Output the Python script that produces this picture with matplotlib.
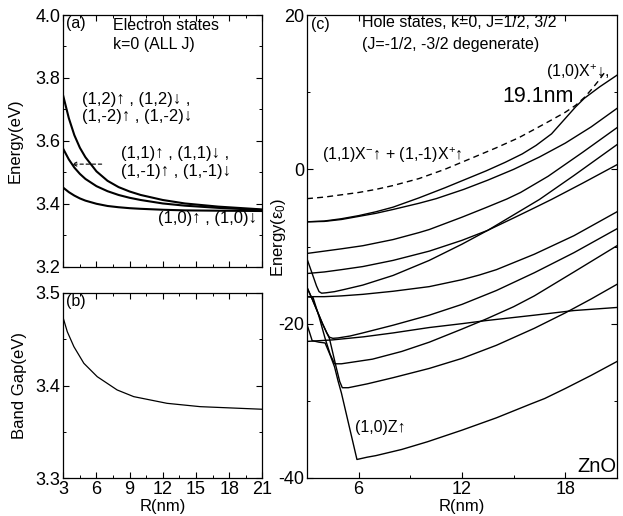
import matplotlib
matplotlib.use("Agg")
import matplotlib.pyplot as plt
from matplotlib.ticker import MultipleLocator, FormatStrFormatter

plt.rcParams["font.family"] = ["Liberation Sans", "DejaVu Sans"]
plt.rcParams["axes.unicode_minus"] = False
plt.rcParams["mathtext.fontset"] = "custom"
plt.rcParams["mathtext.rm"] = "Liberation Sans"
plt.rcParams["mathtext.it"] = "Liberation Sans:italic"
plt.rcParams["mathtext.bf"] = "Liberation Sans:bold"

# ---- (a) electron states, k=0 ----
R_elec = [3, 3.5, 4, 4.5, 5, 6, 7, 8, 9, 10, 12, 14, 17, 21]
E_m2 = [3.742, 3.672, 3.618, 3.578, 3.548, 3.503, 3.473, 3.453, 3.439, 3.428, 3.412, 3.401, 3.391, 3.382]
E_m1 = [3.574, 3.541, 3.515, 3.495, 3.479, 3.456, 3.440, 3.428, 3.419, 3.412, 3.401, 3.394, 3.387, 3.380]
E_m0 = [3.451, 3.437, 3.426, 3.417, 3.410, 3.400, 3.393, 3.389, 3.386, 3.384, 3.381, 3.379, 3.378, 3.377]

# ---- (b) band gap ----
R_gap = [3.0, 3.36, 3.96, 4.86, 6.07, 7.87, 9.37, 12.38, 15.38, 21.0]
E_gap = [3.4724, 3.458, 3.4418, 3.4239, 3.4095, 3.3952, 3.388, 3.3808, 3.3772, 3.3744]

# ---- (c) hole states (units of eps0) ----
R_dash = [3, 4, 5, 6, 7, 8, 9.5, 11, 12.4, 14, 15.3, 16.3, 17.2, 18.0, 18.6, 19.1, 19.5, 19.9, 20.3]
E_dash = [-3.8, -3.6, -3.3, -3.0, -2.6, -2.1, -1.2, 0.0, 1.3, 2.8, 4.1, 5.3, 6.4, 7.4, 8.3, 9.3, 10.3, 11.4, 12.6]

R_p1 = [3, 4, 5, 6, 7, 8, 9.5, 11, 12.2, 13.4, 14.5, 15.5, 16.3, 17.2, 18.0, 18.6, 19.1, 20, 21]
E_p1 = [-6.8, -6.7, -6.4, -6.0, -5.5, -4.9, -3.7, -2.4, -1.3, -0.2, 0.9, 2.0, 3.1, 4.6, 6.6, 8.1, 9.2, 10.7, 12.2]

R_p2 = [3, 4, 5, 6, 7, 8, 9.5, 10.5, 12.1, 13.5, 15, 16.5, 18, 19.5, 21]
E_p2 = [-6.8, -6.75, -6.5, -6.1, -5.7, -5.2, -4.4, -3.8, -2.6, -1.4, 0.0, 1.6, 3.4, 5.5, 7.9]

R_c1 = [3, 4, 5, 6.24, 8, 9.5, 10.1, 12, 13.4, 14.6, 15.4, 17, 19, 21]
E_c1 = [-10.9, -10.6, -10.3, -9.9, -9.1, -8.2, -7.8, -6.2, -4.95, -3.85, -3.0, -0.9, 2.2, 5.4]

R_c2 = [3, 4, 5, 6.24, 8, 10.1, 12, 13.5, 15, 16.2, 17.2, 19, 21]
E_c2 = [-13.5, -13.3, -13.0, -12.6, -11.8, -10.6, -9.2, -7.9, -6.3, -5.0, -3.9, -1.8, 0.6]

R_c3 = [3, 3.3, 3.55, 3.7, 3.85, 4.1, 4.6, 5.2, 6.24, 8, 10.1, 12, 13.5, 15, 16.5, 18.5, 21]
E_c3 = [-11.6, -13.5, -15.1, -15.85, -16.05, -16.0, -15.85, -15.55, -15.0, -13.75, -11.8, -9.7, -7.9, -5.9, -3.9, -0.8, 3.2]

R_c4 = [3, 4, 5, 6.24, 8, 10.1, 12, 13, 14, 16.2, 18.5, 21]
E_c4 = [-16.5, -16.5, -16.4, -16.2, -15.8, -15.2, -14.3, -13.7, -13.0, -11.0, -8.6, -5.5]

R_c5 = [3, 3.3, 3.6, 3.9, 4.15, 4.3, 4.5, 4.8, 5.5, 6.24, 8, 10.1, 12, 14, 16.2, 18.5, 21]
E_c5 = [-15.3, -16.8, -18.4, -20.0, -21.2, -21.75, -21.9, -21.85, -21.6, -21.2, -20.2, -18.9, -17.5, -15.7, -13.4, -10.8, -7.7]

R_c6 = [3, 3.35, 3.7, 4.05, 4.35, 4.6, 5.0, 6.8, 8.5, 10.1, 12, 13.4, 15, 16.2, 18.5, 21]
E_c6 = [-16.5, -16.6, -19.1, -21.9, -24.0, -25.2, -25.2, -24.6, -23.6, -22.4, -20.7, -19.4, -17.8, -16.4, -13.3, -9.9]

R_c7 = [3, 3.3, 3.6, 3.9, 4.15, 4.3, 4.5, 4.7, 4.9, 5.05, 5.4, 6.5, 8, 10.1, 12, 14, 16.2, 18, 19.5, 21]
E_c7 = [-15.3, -16.8, -18.4, -20.0, -21.2, -21.9, -23.8, -25.7, -27.5, -28.3, -28.3, -27.8, -27.0, -25.8, -24.5, -22.8, -20.6, -18.6, -16.8, -14.9]

R_flat = [3, 4.5, 6.3, 8, 10.1, 12, 13.4, 16.2, 18.5, 21]
E_flat = [-22.3, -22.1, -21.7, -21.2, -20.5, -20.0, -19.6, -18.9, -18.3, -17.9]

R_z = [3, 3.3, 3.7, 4.05, 4.35, 4.6, 4.8, 5.0, 5.45, 5.9, 6.5, 7, 8.5, 10, 12, 14, 16, 16.8, 18, 19.5, 21]
E_z = [-20.1, -22.2, -22.4, -22.5, -24.1, -25.6, -27.4, -29.0, -33.3, -37.6, -37.3, -37.1, -36.3, -35.3, -33.8, -32.2, -30.4, -29.7, -28.4, -26.7, -24.9]

hole_solid = [
    (R_p1, E_p1), (R_p2, E_p2), (R_c1, E_c1), (R_c2, E_c2), (R_c3, E_c3),
    (R_c4, E_c4), (R_c5, E_c5), (R_c6, E_c6), (R_c7, E_c7), (R_flat, E_flat), (R_z, E_z),
]

# arrow in (a): from label to the (1,1) curve
arrow_tail = (6.47, 3.526)
arrow_head = (3.76, 3.526)

TICK_FS = 13
LABEL_FS = 12
NOTE_FS = 11.5
STATE_FS = 12


def style_axes(ax):
    ax.tick_params(which="both", direction="in", top=True, right=True, labelsize=TICK_FS, pad=2)
    ax.tick_params(which="major", length=4, width=0.8)
    ax.tick_params(which="minor", length=2.2, width=0.7)
    for sp in ax.spines.values():
        sp.set_linewidth(0.9)


def main():
    fig = plt.figure(figsize=(6.23, 5.16), dpi=100)
    W, H = 623.0, 516.0

    ax_a = fig.add_axes([63.3 / W, 1 - 266.7 / H, (262.3 - 63.3) / W, (266.7 - 15) / H])
    ax_b = fig.add_axes([63.3 / W, 1 - 478.3 / H, (262.3 - 63.3) / W, (478.3 - 292.7) / H])
    ax_c = fig.add_axes([307 / W, 1 - 478 / H, (617 - 307) / W, (478 - 15) / H])

    # (a)
    for e in (E_m2, E_m1, E_m0):
        ax_a.plot(R_elec, e, color="black", lw=1.5)
    ax_a.set_xlim(3, 21)
    ax_a.set_ylim(3.2, 4.0)
    ax_a.xaxis.set_major_locator(MultipleLocator(3))
    ax_a.xaxis.set_minor_locator(MultipleLocator(1.5))
    ax_a.yaxis.set_major_locator(MultipleLocator(0.2))
    ax_a.yaxis.set_minor_locator(MultipleLocator(0.1))
    ax_a.yaxis.set_major_formatter(FormatStrFormatter("%.1f"))
    ax_a.set_xticklabels([])
    style_axes(ax_a)
    ax_a.set_ylabel("Energy(eV)", fontsize=LABEL_FS)
    ax_a.yaxis.set_label_coords(-0.205, 0.5)
    ax_a.text(0.015, 0.995, "(a)", transform=ax_a.transAxes, ha="left", va="top", fontsize=NOTE_FS)
    ax_a.text(7.5, 3.968, "Electron states", ha="left", va="center", fontsize=NOTE_FS)
    ax_a.text(7.5, 3.905, "k=0 (ALL J)", ha="left", va="center", fontsize=NOTE_FS)
    ax_a.text(4.69, 3.732, "(1,2)↑ , (1,2)↓ ,", ha="left", va="center", fontsize=STATE_FS)
    ax_a.text(4.69, 3.676, "(1,-2)↑ , (1,-2)↓", ha="left", va="center", fontsize=STATE_FS)
    ax_a.text(8.22, 3.561, "(1,1)↑ , (1,1)↓ ,", ha="left", va="center", fontsize=STATE_FS)
    ax_a.text(8.22, 3.502, "(1,-1)↑ , (1,-1)↓", ha="left", va="center", fontsize=STATE_FS)
    ax_a.text(11.56, 3.353, "(1,0)↑ , (1,0)↓", ha="left", va="center", fontsize=STATE_FS)
    ax_a.annotate("", xy=arrow_head, xytext=arrow_tail,
                  arrowprops=dict(arrowstyle="->", lw=0.8, linestyle=(0, (3, 2.5)),
                                  shrinkA=0, shrinkB=0, mutation_scale=7))

    # (b)
    ax_b.plot(R_gap, E_gap, color="black", lw=0.9)
    ax_b.set_xlim(3, 21)
    ax_b.set_ylim(3.3, 3.5)
    ax_b.xaxis.set_major_locator(MultipleLocator(3))
    ax_b.xaxis.set_minor_locator(MultipleLocator(1.5))
    ax_b.yaxis.set_major_locator(MultipleLocator(0.1))
    ax_b.yaxis.set_minor_locator(MultipleLocator(0.05))
    ax_b.yaxis.set_major_formatter(FormatStrFormatter("%.1f"))
    style_axes(ax_b)
    ax_b.set_ylabel("Band Gap(eV)", fontsize=LABEL_FS)
    ax_b.yaxis.set_label_coords(-0.18, 0.5)
    ax_b.set_xlabel("R(nm)", fontsize=LABEL_FS, labelpad=1)
    ax_b.text(0.015, 0.995, "(b)", transform=ax_b.transAxes, ha="left", va="top", fontsize=NOTE_FS)

    # (c)
    ax_c.plot(R_dash, E_dash, color="black", lw=1.0, linestyle=(0, (4.3, 3)))
    for r, e in hole_solid:
        ax_c.plot(r, e, color="black", lw=1.0)
    ax_c.set_xlim(3, 21)
    ax_c.set_ylim(-40, 20)
    ax_c.set_xticks([6, 12, 18])
    ax_c.xaxis.set_minor_locator(MultipleLocator(3))
    ax_c.yaxis.set_major_locator(MultipleLocator(20))
    ax_c.yaxis.set_minor_locator(MultipleLocator(10))
    style_axes(ax_c)
    ax_c.set_ylabel("Energy(ε$_0$)", fontsize=LABEL_FS)
    ax_c.yaxis.set_label_coords(-0.062, 0.52)
    ax_c.set_xlabel("R(nm)", fontsize=LABEL_FS, labelpad=1)
    ax_c.text(0.012, 0.995, "(c)", transform=ax_c.transAxes, ha="left", va="top", fontsize=NOTE_FS)
    ax_c.text(6.2, 19.0, "Hole states, k=0, J=1/2, 3/2", ha="left", va="center", fontsize=NOTE_FS)
    ax_c.text(6.2, 16.2, "(J=-1/2, -3/2 degenerate)", ha="left", va="center", fontsize=NOTE_FS)
    ax_c.text(16.87, 12.6, "(1,0)X$^{+}$↓,", ha="left", va="center", fontsize=NOTE_FS)
    ax_c.text(14.35, 9.4, "19.1nm", ha="left", va="center", fontsize=15.5)
    ax_c.text(3.85, 1.8, "(1,1)X$^{-}$↑ + (1,-1)X$^{+}$↑", ha="left", va="center", fontsize=NOTE_FS)
    ax_c.text(5.77, -33.4, "(1,0)Z↑", ha="left", va="center", fontsize=NOTE_FS)
    ax_c.text(0.997, 0.004, "ZnO", transform=ax_c.transAxes, ha="right", va="bottom", fontsize=14.5)

    fig.savefig("out.png", dpi=100)
    plt.close(fig)


if __name__ == "__main__":
    main()
